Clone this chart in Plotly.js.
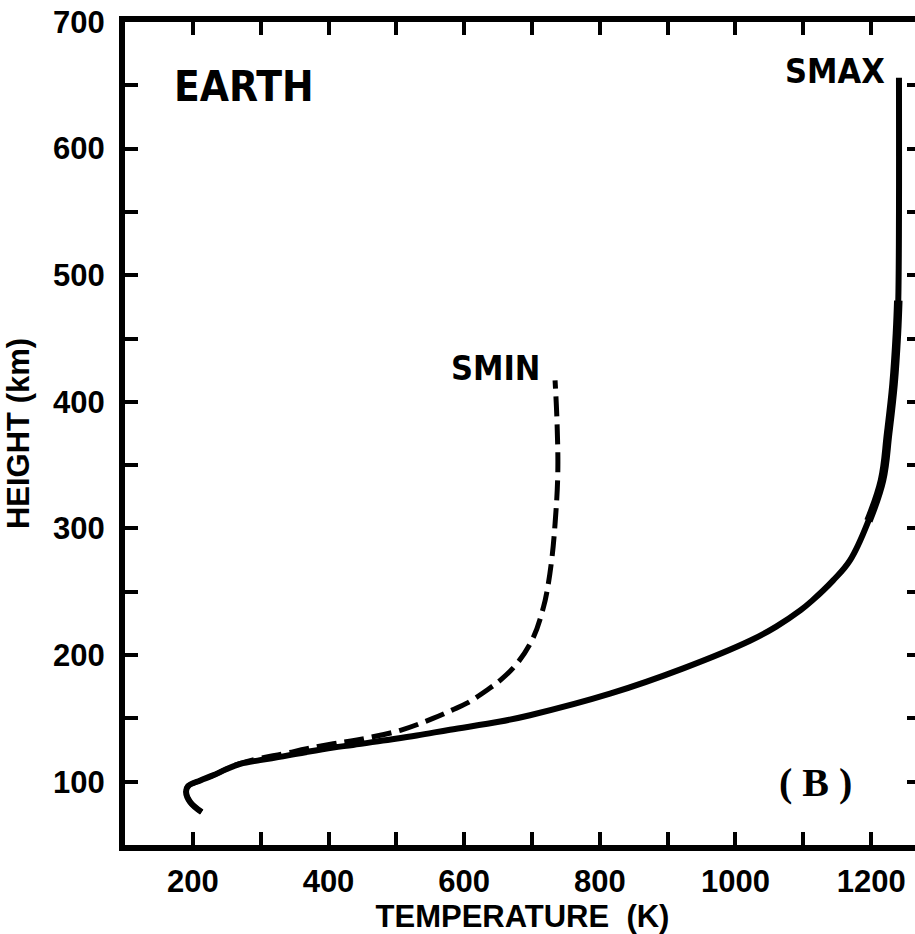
<!DOCTYPE html>
<html>
<head>
<meta charset="utf-8">
<script src="https://cdn.plot.ly/plotly-3.0.1.min.js"></script>
<style>
html, body { margin: 0; padding: 0; background: #fff; overflow: hidden; }
#chart { width: 925px; height: 934px; }
</style>
</head>
<body>
<div id="chart"></div>
<script>
// Temperature (K) and height (km)
const smaxTemp   = [213, 196, 190, 193, 211, 230, 250, 270, 299, 333, 368, 407, 436, 480, 530, 579, 653, 697, 815, 923, 1022, 1060, 1096, 1113, 1144, 1169, 1196, 1216, 1225, 1233, 1238, 1240, 1241];
const smaxHeight = [76, 84, 92, 96.5, 101, 105, 110, 114, 117, 120, 123.5, 127, 129, 132.5, 136.5, 141, 147.5, 152.5, 169.5, 189.5, 211.5, 222.5, 235.5, 243, 259, 275, 306, 338, 375, 414, 454, 480, 656];

const sminTemp   = [213, 196, 190, 193, 211, 230, 250, 270, 299, 333, 368, 407, 442, 506, 554, 582, 604, 638, 653, 678, 702, 717, 722, 729, 734, 738, 737, 734];
const sminHeight = [76, 84, 92, 96.5, 101, 105, 110, 114.5, 118.5, 122, 126, 130, 133, 140.6, 150, 156.5, 162, 174, 180, 193.4, 214, 238, 250, 275, 303.7, 343, 382.5, 417];

const xTickStep = 200, xMinorStep = 100;
const yTickStep = 100, yMinorStep = 50;
const curveLabels = ['SMAX', 'SMIN'];
const panelLabel = 'EARTH';
const panelTag = '( B )';

// thicker inked stretch of the SMAX curve near its knee
const thickIdx = smaxHeight.map((h, i) => i).filter(i => smaxHeight[i] >= 300 && smaxHeight[i] <= 485);

const black = '#000';
const smooth = 1.1;
const traces = [
  { x: smaxTemp, y: smaxHeight, mode: 'lines', name: curveLabels[0],
    line: { color: black, width: 6, shape: 'spline', smoothing: smooth } },
  { x: thickIdx.map(i => smaxTemp[i]), y: thickIdx.map(i => smaxHeight[i]), mode: 'lines', name: curveLabels[0] + ' ',
    line: { color: black, width: 8.5, shape: 'spline', smoothing: smooth }, showlegend: false },
  { x: sminTemp, y: sminHeight, mode: 'lines', name: curveLabels[1],
    line: { color: black, width: 5, dash: '20px,8px', shape: 'spline', smoothing: smooth } }
];

const tickFont = { family: 'Liberation Sans, Arial, sans-serif', size: 31, weight: 'bold', color: black };
const titleFont = { family: 'Liberation Sans, Arial, sans-serif', size: 31, weight: 'bold', color: black };
const narrowFont = (s) => ({ family: 'Liberation Sans Narrow, DejaVu Sans Condensed, Arial Narrow, sans-serif', size: s, weight: 'bold', color: black });

const axisCommon = {
  showgrid: false, zeroline: false, showline: true, linewidth: 6, linecolor: black,
  mirror: 'ticks', ticks: 'inside', ticklen: 13, tickwidth: 4, tickcolor: black,
  tickmode: 'linear', tick0: 0, tickfont: tickFont, fixedrange: true
};

const layout = {
  width: 925, height: 934,
  margin: { l: 125, r: 5, t: 22, b: 89 },
  paper_bgcolor: '#fff', plot_bgcolor: '#fff',
  showlegend: false,
  xaxis: Object.assign({}, axisCommon, {
    range: [100, 1272], dtick: xTickStep, ticklabelstandoff: 4,
    minor: { dtick: xMinorStep, tick0: 0, ticks: 'inside', ticklen: 13, tickwidth: 4, tickcolor: black, showgrid: false },
    title: { text: 'TEMPERATURE  (K)', font: titleFont, standoff: 18 }
  }),
  yaxis: Object.assign({}, axisCommon, {
    range: [50, 700], dtick: yTickStep, ticklabelstandoff: 8,
    minor: { dtick: yMinorStep, tick0: 0, ticks: 'inside', ticklen: 13, tickwidth: 4, tickcolor: black, showgrid: false },
    title: { text: 'HEIGHT (km)', font: titleFont, standoff: 16 }
  }),
  annotations: [
    { text: panelLabel, x: 276, y: 649, xref: 'x', yref: 'y', showarrow: false, font: narrowFont(42) },
    { text: curveLabels[0], x: 1146, y: 661, xref: 'x', yref: 'y', showarrow: false, font: narrowFont(34) },
    { text: curveLabels[1], x: 646, y: 427, xref: 'x', yref: 'y', showarrow: false, font: narrowFont(34) },
    { text: panelTag, x: 1118, y: 99, xref: 'x', yref: 'y', showarrow: false,
      font: { family: 'Liberation Serif, Times New Roman, serif', size: 40, weight: 'bold', color: black } }
  ]
};

Plotly.newPlot('chart', traces, layout, { displayModeBar: false, staticPlot: true });
</script>
</body>
</html>
